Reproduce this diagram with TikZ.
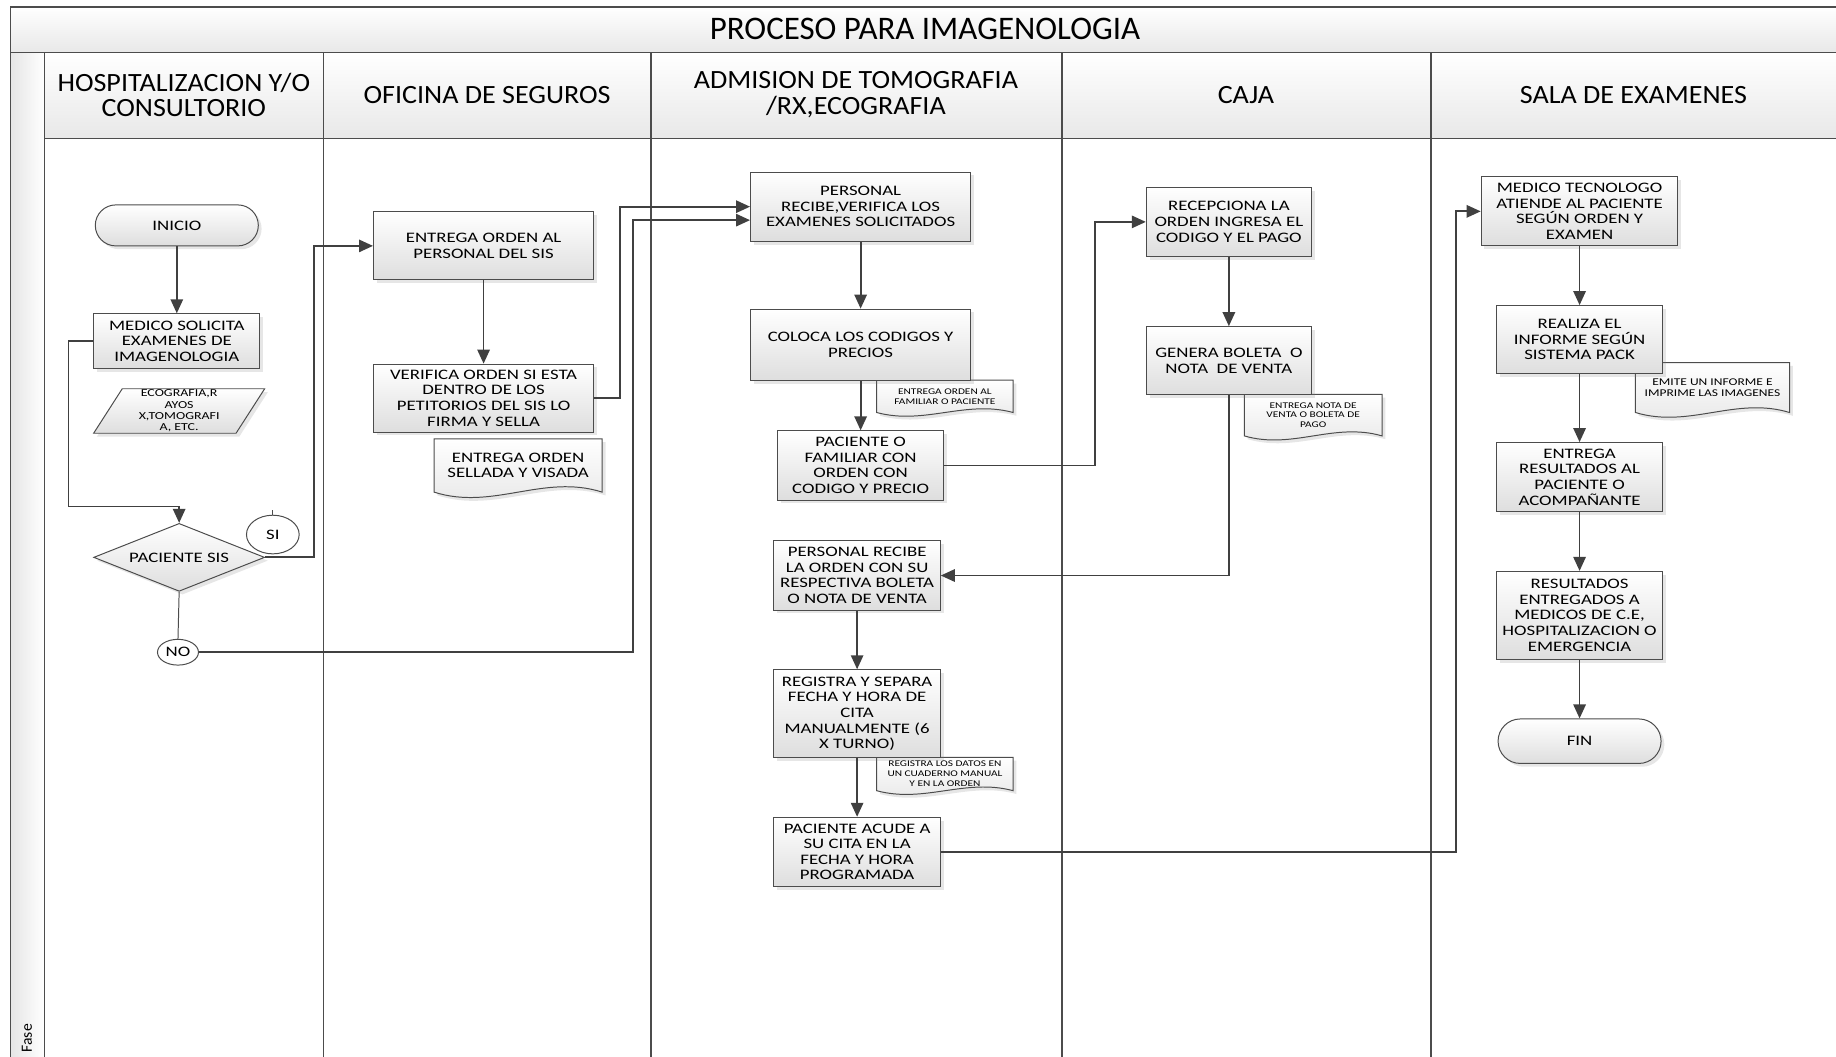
\documentclass[tikz,border=0pt]{standalone}
\usepackage{fontspec}
\setmainfont{Carlito}
\newfontfamily\boxfont{Carlito}[FakeStretch=1.3]
\newfontfamily\headfont{Carlito}[FakeStretch=1.065]
\usetikzlibrary{arrows.meta,shapes.geometric,shapes.misc,shadows,calc,backgrounds}

\tikzset{
  lane/.style={draw=black!70, line width=0.8pt},
  headcell/.style={lane, top color=white, bottom color=black!9},
  hdtext/.style={align=center, inner sep=0pt, font=\headfont\fontsize{16}{15.5}\selectfont},
  proc/.style={draw=black!70, line width=0.6pt, top color=white, bottom color=black!13,
    drop shadow={opacity=0.2, shadow xshift=2pt, shadow yshift=-2pt},
    align=center, inner sep=1pt, font=\boxfont\fontsize{8.8}{9.5}\selectfont},
  wbox/.style={proc, minimum width=4.7cm, minimum height=1.475cm},
  nbox/.style={proc, minimum width=3.55cm, minimum height=1.475cm},
  term/.style={proc, rounded rectangle, minimum width=3.55cm},
  decision/.style={proc, diamond, aspect=2.5, inner sep=0pt},
  tag/.style={draw=black!70, line width=0.6pt, fill=white, ellipse, inner sep=0pt,
    font=\boxfont\fontsize{8.8}{9.5}\selectfont},
  doctext/.style={align=center, inner sep=0pt},
  docline/.style={draw=black!70, line width=0.6pt, top color=white, bottom color=black!10,
    drop shadow={opacity=0.2, shadow xshift=2pt, shadow yshift=-2pt}},
  flow/.style={draw=black!75, line width=1.1pt, -{Triangle[length=8.5pt,width=7.5pt]}},
  thinlink/.style={draw=black!70, line width=0.6pt},
}

% contorno de documento con borde ondulado bajo el nodo
\newcommand{\docwave}[2]{%
  \begin{pgfonlayer}{background}
  \draw[docline] (#1.south east) -- (#1.north east) -- (#1.north west) -- (#1.south west)
    .. controls ($(#1.south west)!0.35!(#1.south east)+(0,#2)$) and ($(#1.south west)!0.65!(#1.south east)+(0,-#2)$) .. (#1.south east) -- cycle;
  \end{pgfonlayer}}

\begin{document}
\begin{tikzpicture}[x=0.025cm, y=-0.025cm]
  \useasboundingbox (0,0) rectangle (1568,902);
  \clip (0,0) rectangle (1568,902);

  % marco, titulo y carriles
  \draw[headcell] (9,6) rectangle (1600,45);
  \node (titulo) at (790,25) {\fontsize{20}{24}\selectfont PROCESO PARA IMAGENOLOGIA};
  \draw[lane, left color=black!10, right color=white] (9,45) rectangle (38,920);
  \node[rotate=90, anchor=west, inner sep=0pt] (fase) at (23,899) {\fontsize{9.5}{10}\selectfont Fase};
  \draw[headcell] (38,45) rectangle (276,118);
  \draw[headcell] (276,45) rectangle (556,118);
  \draw[headcell] (556,45) rectangle (907,118);
  \draw[headcell] (907,45) rectangle (1222,118);
  \draw[headcell] (1222,45) rectangle (1600,118);
  \draw[lane] (276,118) -- (276,920);
  \draw[lane] (556,118) -- (556,920);
  \draw[lane] (907,118) -- (907,920);
  \draw[lane] (1222,118) -- (1222,920);
  \node[hdtext] (hdhosp) at (157,81) {HOSPITALIZACION Y/O\\CONSULTORIO};
  \node[hdtext] (hdseg) at (416,81) {OFICINA DE SEGUROS};
  \node[hdtext] (hdadm) at (731,81) {ADMISION DE TOMOGRAFIA\\/RX,ECOGRAFIA};
  \node[hdtext] (hdcaja) at (1064,81) {CAJA};
  \node[hdtext] (hdsala) at (1395,81) {SALA DE EXAMENES};

  % hospitalizacion y/o consultorio
  \node[term, minimum height=0.875cm] (inicio) at (151,192.5) {INICIO};
  \node[nbox, minimum height=1.175cm] (solicita) at (151,291.5) {MEDICO SOLICITA\\EXAMENES DE\\IMAGENOLOGIA};
  \node[proc, trapezium, trapezium left angle=56, trapezium right angle=124, trapezium stretches body,
    minimum width=3.65cm, minimum height=0.95cm, inner sep=0pt, font=\boxfont\fontsize{6.5}{6.9}\selectfont]
    (tipos) at (153,351) {ECOGRAFIA,R\\AYOS\\X,TOMOGRAFI\\A, ETC.};
  \node[decision, minimum width=3.65cm, minimum height=1.45cm] (sis) at (153,476) {PACIENTE SIS};
  \node[tag, minimum width=1.125cm, minimum height=0.825cm] (si) at (233,456.5) {SI};
  \node[tag, minimum width=0.875cm, minimum height=0.55cm] (no) at (152,557) {NO};

  % oficina de seguros
  \node[wbox, minimum height=1.45cm] (entrega) at (413,210) {ENTREGA ORDEN AL\\PERSONAL DEL SIS};
  \node[wbox, minimum height=1.45cm] (verifica) at (413,340) {VERIFICA ORDEN SI ESTA\\DENTRO DE LOS\\PETITORIOS DEL SIS LO\\FIRMA Y SELLA};
  \node[doctext, minimum width=3.575cm, minimum height=1.125cm, font=\boxfont\fontsize{8.8}{9.5}\selectfont]
    (sellada) at (442.5,397.5) {ENTREGA ORDEN\\SELLADA Y VISADA};
  \docwave{sellada}{16}

  % admision de tomografia / rx, ecografia
  \node[wbox] (recibe) at (735,176.5) {PERSONAL\\RECIBE,VERIFICA LOS\\EXAMENES SOLICITADOS};
  \node[wbox, minimum height=1.525cm] (coloca) at (735,294.5) {COLOCA LOS CODIGOS Y\\PRECIOS};
  \node[doctext, minimum width=2.9cm, minimum height=0.675cm, font=\boxfont\fontsize{5.3}{6}\selectfont]
    (famdoc) at (807,338.5) {ENTREGA ORDEN AL\\FAMILIAR O PACIENTE};
  \docwave{famdoc}{11}
  \node[nbox] (familiar) at (735,397.5) {PACIENTE O\\FAMILIAR CON\\ORDEN CON\\CODIGO Y PRECIO};
  \node[nbox] (recorden) at (732,491.5) {PERSONAL RECIBE\\LA ORDEN CON SU\\RESPECTIVA BOLETA\\O NOTA DE VENTA};
  \node[nbox, minimum height=1.875cm] (registra) at (732,609.5) {REGISTRA Y SEPARA\\FECHA Y HORA DE\\CITA\\MANUALMENTE (6\\X TURNO)};
  \node[doctext, minimum width=2.9cm, minimum height=0.7cm, font=\boxfont\fontsize{5.3}{6}\selectfont]
    (datosdoc) at (807,661) {REGISTRA LOS DATOS EN\\UN CUADERNO MANUAL\\Y EN LA ORDEN};
  \docwave{datosdoc}{11}
  \node[nbox] (acude) at (732,727.5) {PACIENTE ACUDE A\\SU CITA EN LA\\FECHA Y HORA\\PROGRAMADA};

  % caja
  \node[nbox, minimum width=3.525cm] (recepciona) at (1049.5,189.5) {RECEPCIONA LA\\ORDEN INGRESA EL\\CODIGO Y EL PAGO};
  \node[nbox, minimum width=3.525cm, minimum height=1.45cm] (genera) at (1049.5,308) {GENERA BOLETA~~O\\NOTA~~DE VENTA};
  \node[doctext, minimum width=2.925cm, minimum height=0.875cm, font=\boxfont\fontsize{5.3}{6}\selectfont]
    (notadoc) at (1121.5,354.5) {ENTREGA NOTA DE\\VENTA O BOLETA DE\\PAGO};
  \docwave{notadoc}{12}

  % sala de examenes
  \node[proc, minimum width=4.2cm, minimum height=1.475cm] (tecnologo) at (1349,180.5) {MEDICO TECNOLOGO\\ATIENDE AL PACIENTE\\SEGÚN ORDEN Y\\EXAMEN};
  \node[nbox, minimum height=1.45cm] (informe) at (1349,290) {REALIZA EL\\INFORME SEGÚN\\SISTEMA PACK};
  \node[doctext, minimum width=3.275cm, minimum height=1.05cm, font=\boxfont\fontsize{6.3}{7}\selectfont]
    (emitedoc) at (1462.5,331) {EMITE UN INFORME E\\IMPRIME LAS IMAGENES};
  \docwave{emitedoc}{14}
  \node[nbox] (resultados) at (1349,407.5) {ENTREGA\\RESULTADOS AL\\PACIENTE O\\ACOMPAÑANTE};
  \node[nbox, minimum height=1.875cm] (entregados) at (1349,525.5) {RESULTADOS\\ENTREGADOS A\\MEDICOS DE C.E,\\HOSPITALIZACION O\\EMERGENCIA};
  \node[term, minimum height=0.95cm] (fin) at (1349,633) {FIN};

  % conectores
  \draw[flow] (inicio.south) -- (solicita.north);
  \draw[flow] (solicita.west) -- ++(-21,0) |- ($(sis.north)+(0,-14)$) -- (sis.north);
  \draw[flow] (sis.east) -- ++(42,0) |- (entrega.west);
  \draw[thinlink] (si.north) -- ++(0,-4);
  \draw[thinlink] (sis.south) -- (no.north);
  \draw[flow] (no.east) -| ($(recibe.west)+(-100,11.5)$) -- ($(recibe.west)+(0,11.5)$);
  \draw[flow] (entrega.south) -- (verifica.north);
  \draw[flow] (verifica.east) -- ++(22,0) |- (recibe.west);
  \draw[flow] (recibe.south) -- (coloca.north);
  \draw[flow] (coloca.south) -- (familiar.north);
  \draw[flow] (familiar.east) -- ++(129,0) |- (recepciona.west);
  \draw[flow] (recepciona.south) -- (genera.north);
  \draw[flow] (genera.south) |- (recorden.east);
  \draw[flow] (recorden.south) -- (registra.north);
  \draw[flow] (registra.south) -- (acude.north);
  \draw[flow] (acude.east) -- ++(440,0) |- (tecnologo.west);
  \draw[flow] (tecnologo.south) -- (informe.north);
  \draw[flow] (informe.south) -- (resultados.north);
  \draw[flow] (resultados.south) -- (entregados.north);
  \draw[flow] (entregados.south) -- (fin.north);
\end{tikzpicture}
\end{document}
